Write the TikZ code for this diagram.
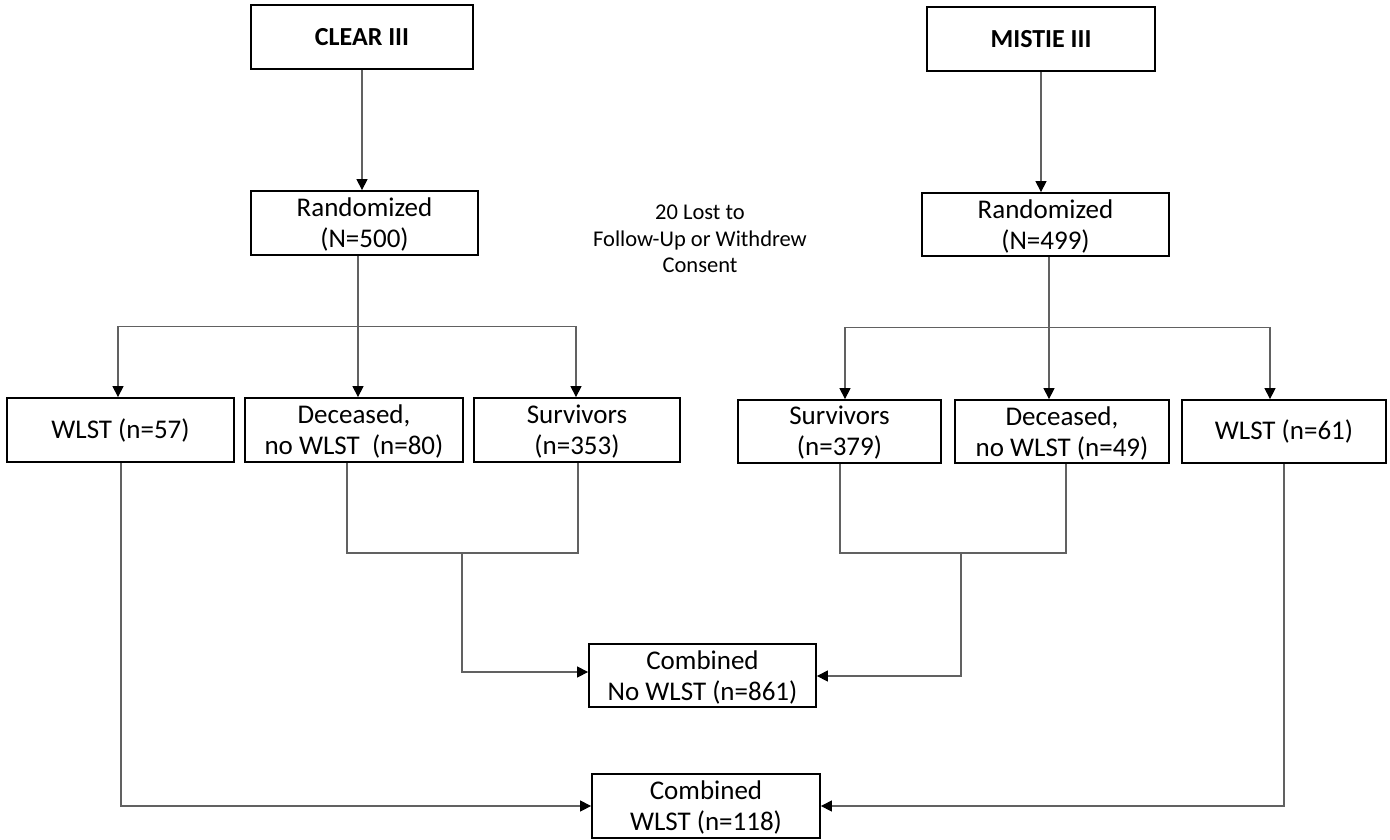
\documentclass[tikz,border=0pt]{standalone}
\usepackage{fontspec}
\setmainfont{Carlito}
\usetikzlibrary{arrows.meta}
\begin{document}
\begin{tikzpicture}[x=1pt,y=-1pt,
  box/.style={draw=black,line width=1.8pt,inner sep=0pt,align=center,
    font=\fontsize{27}{32}\selectfont},
  txt/.style={inner sep=0pt,align=center,font=\fontsize{27}{31}\selectfont,yshift=-1.5pt},
  conn/.style={draw=black!62,line width=1.2pt},
  arr/.style={conn,-{Triangle[length=11pt,width=11pt,fill=black,color=black]}}]
\useasboundingbox (0,0) rectangle (1390,839);
% nodes
\node[box,minimum width=222pt,minimum height=64pt,font=\fontsize{26}{31}\selectfont\bfseries] (clear) at (362,37) {CLEAR III};
\node[box,minimum width=228pt,minimum height=64pt,font=\fontsize{26}{31}\selectfont\bfseries] (mistie) at (1041,39) {MISTIE III};
\node[box,minimum width=227pt,minimum height=64pt,label={[txt]center:{Randomized\\(N=500)}}] (rand1) at (364.5,223) {};
\node[box,minimum width=247pt,minimum height=63pt,label={[txt]center:{Randomized\\(N=499)}}] (rand2) at (1045.5,224.5) {};
\node[align=center,font=\fontsize{22.5}{26.5}\selectfont] (lost) at (700,239) {20 Lost to\\Follow-Up or Withdrew\\Consent};
\node[box,minimum width=227pt,minimum height=64pt] (wlst1) at (120.5,430) {WLST (n=57)};
\node[box,minimum width=218pt,minimum height=64pt,label={[txt]center:{Deceased,\\no WLST\ \ (n=80)}}] (dec1) at (354,430) {};
\node[box,minimum width=206pt,minimum height=64pt,label={[txt]center:{Survivors\\(n=353)}}] (surv1) at (577,430) {};
\node[box,minimum width=203pt,minimum height=63pt,label={[txt]center:{Survivors\\(n=379)}}] (surv2) at (839.5,431.5) {};
\node[box,minimum width=214pt,minimum height=63pt,label={[txt]center:{Deceased,\\no WLST (n=49)}}] (dec2) at (1062,431.5) {};
\node[box,minimum width=204pt,minimum height=63pt] (wlst2) at (1284,431.5) {WLST (n=61)};
\node[box,minimum width=227pt,minimum height=63pt,label={[txt]center:{Combined\\No WLST (n=861)}}] (comb1) at (702.5,675.5) {};
\node[box,minimum width=228pt,minimum height=64pt,label={[txt]center:{Combined\\WLST (n=118)}}] (comb2) at (706,806) {};
% junction coordinates
\coordinate (jl) at (462,553);
\coordinate (jr) at (961,553);
% top arrows
\draw[arr] (clear.south) -- (clear.south |- rand1.north);
\draw[arr] (mistie.south) -- (mistie.south |- rand2.north);
% CLEAR split
\draw[arr] (rand1.south -| 358,0) -- (dec1.north -| 358,0);
\draw[conn] (wlst1.north -| 118,0) ++(0,-71) -- ++(458,0);
\draw[arr] (wlst1.north -| 118,0) ++(0,-71) -- (wlst1.north -| 118,0);
\draw[arr] (surv1.north -| 576,0) ++(0,-71) -- (surv1.north -| 576,0);
% MISTIE split
\draw[arr] (rand2.south -| 1049,0) -- (dec2.north -| 1049,0);
\draw[conn] (surv2.north -| 845,0) ++(0,-72) -- ++(425,0);
\draw[arr] (surv2.north -| 845,0) ++(0,-72) -- (surv2.north -| 845,0);
\draw[arr] (wlst2.north -| 1270,0) ++(0,-72) -- (wlst2.north -| 1270,0);
% left join
\draw[conn] (dec1.south -| 347,0) -- (jl -| 347,0) -- (jl -| 578,0) -- (surv1.south -| 578,0);
\draw[arr] (jl) -- (jl |- 0,672) -- (comb1.west |- 0,672);
% right join
\draw[conn] (surv2.south -| 840,0) -- (jr -| 840,0) -- (jr -| 1066,0) -- (dec2.south -| 1066,0);
\draw[arr] (jr) -- (jr |- 0,676) -- (comb1.east |- 0,676);
% WLST joins
\draw[arr] (wlst1.south -| 121,0) -- (comb2.west -| 121,0) -- (comb2.west);
\draw[arr] (wlst2.south -| 1284,0) -- (comb2.east -| 1284,0) -- (comb2.east);
\end{tikzpicture}
\end{document}
